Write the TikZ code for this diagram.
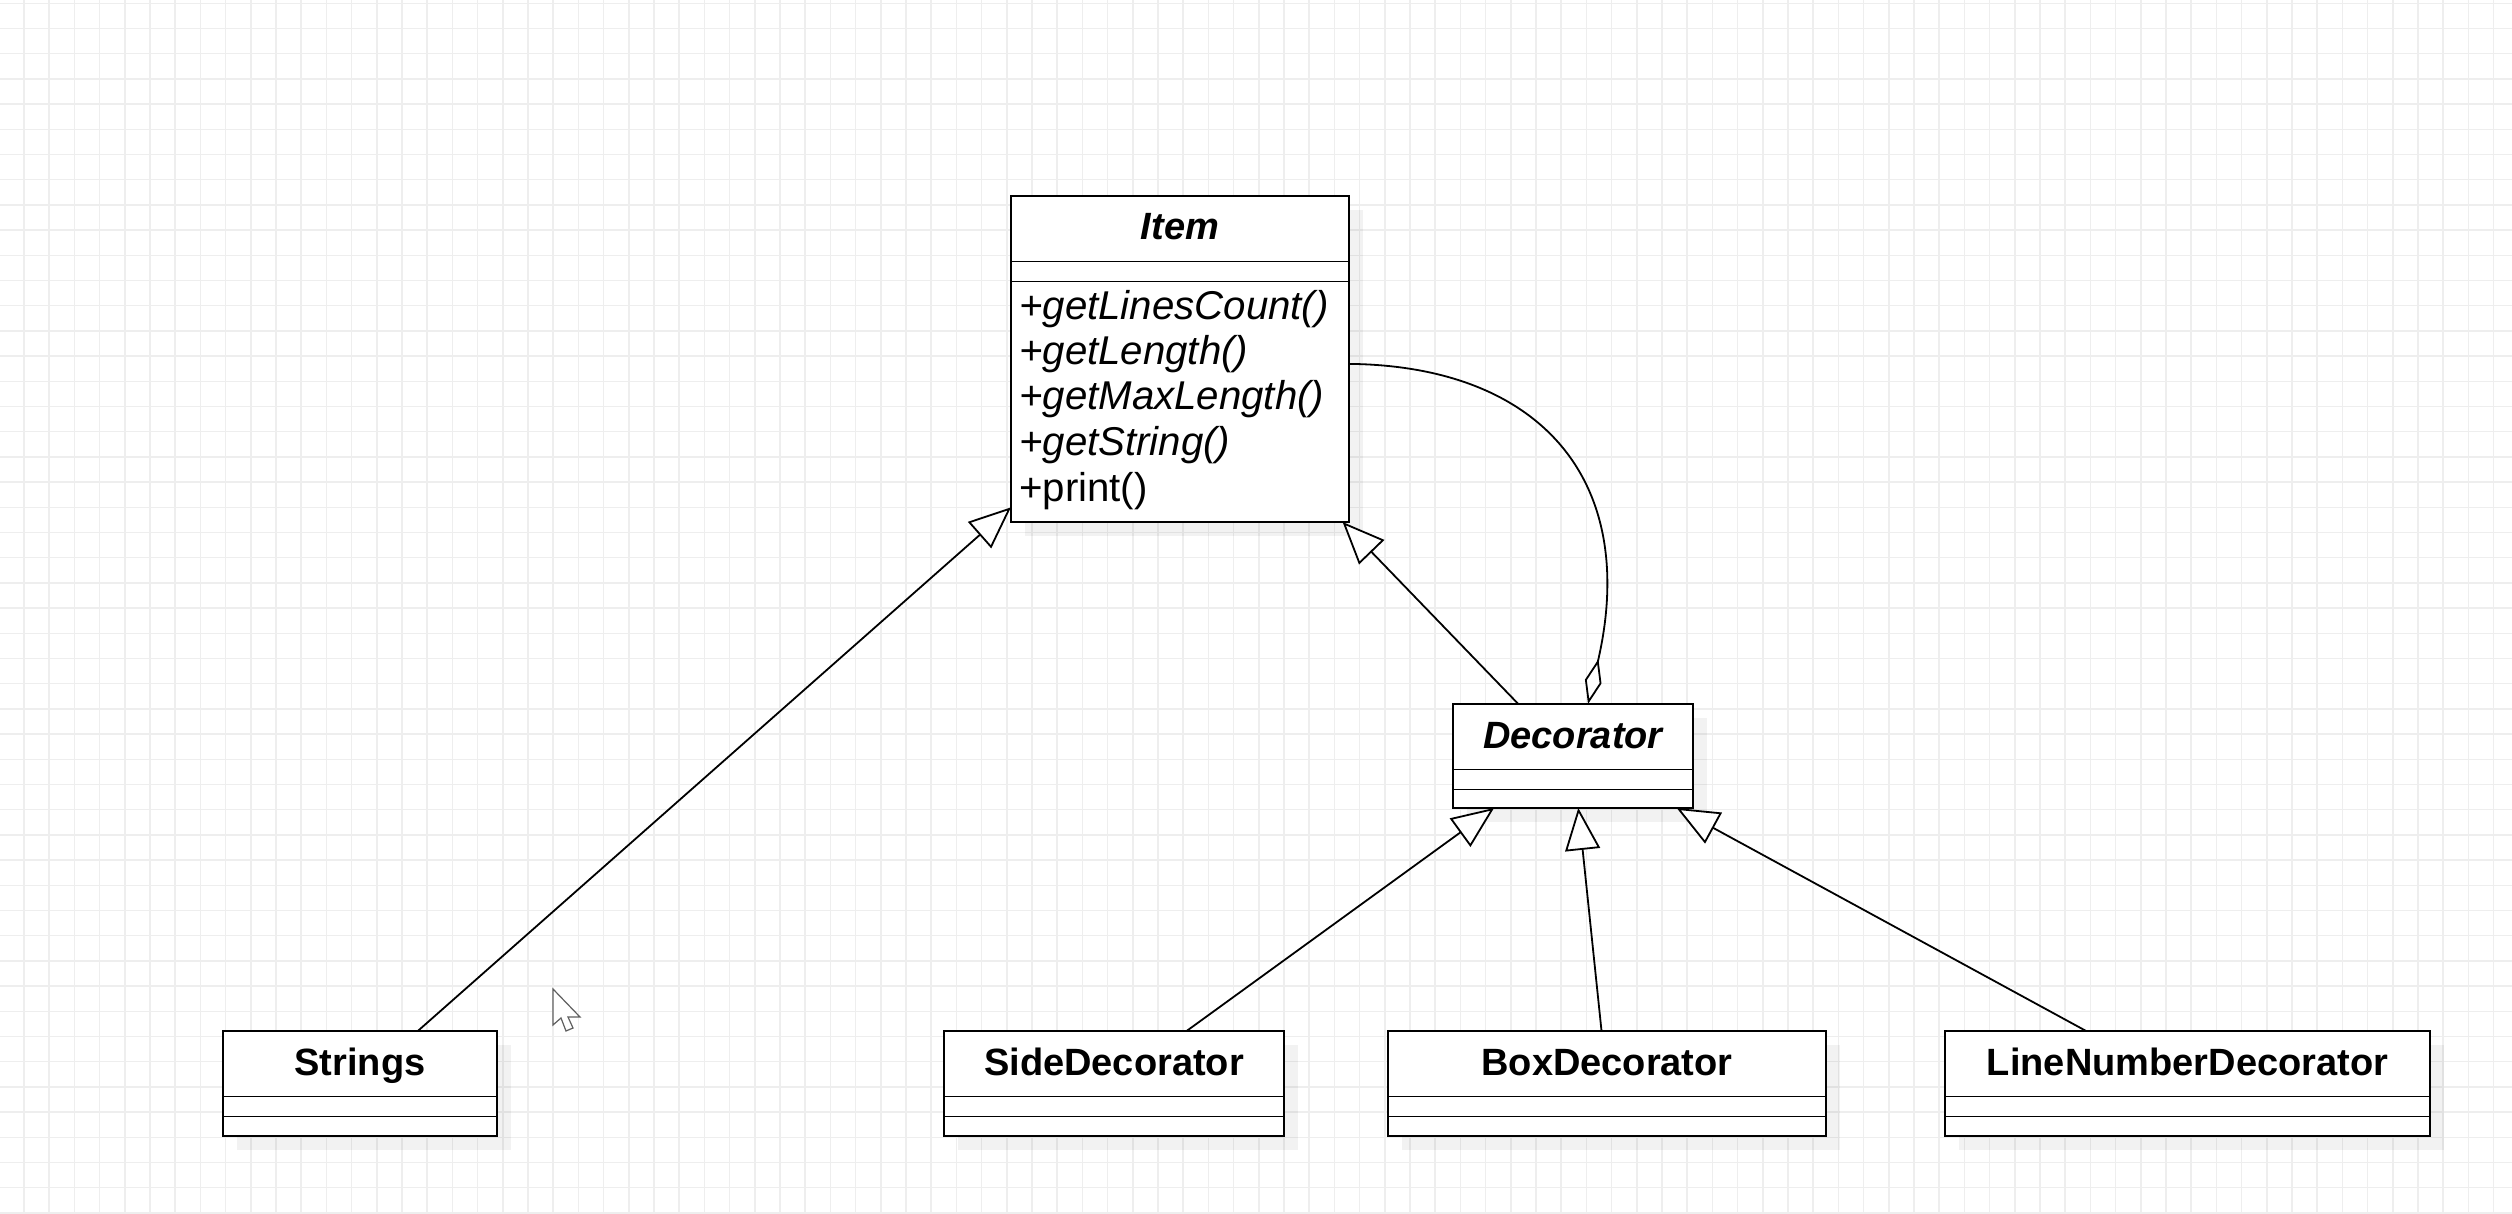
\documentclass[tikz,border=0pt]{standalone}
\usepackage{fontspec}
\setmainfont{Liberation Sans}
\usetikzlibrary{arrows.meta,calc,shadows}

\definecolor{gridgray}{RGB}{238,238,238}
\definecolor{pointergray}{RGB}{95,95,95}

\tikzset{
  gridline/.style={draw=gridgray, line width=1.5pt},
  classbox/.style={draw=black, line width=1.9pt, fill=white, rectangle,
    inner sep=0pt, outer sep=0pt, anchor=north west,
    drop shadow={shadow xshift=14pt, shadow yshift=-14pt, fill=black, opacity=0.05}},
  sepline/.style={draw=black, line width=1.9pt},
  classtitle/.style={font=\fontsize{38}{45}\selectfont\bfseries, anchor=base, inner sep=0pt},
  abstracttitle/.style={font=\fontsize{38}{45}\selectfont\bfseries\itshape, anchor=base, inner sep=0pt},
  methodtext/.style={font=\fontsize{40.2}{45}\selectfont\itshape, anchor=base west, inner sep=0pt},
  opertext/.style={font=\fontsize{40.2}{45}\selectfont, anchor=base west, inner sep=0pt},
  inherit/.style={draw=black, line width=1.8pt,
    -{Triangle[length=42pt, width=35pt, fill=white]}},
  aggregation/.style={draw=black, line width=1.8pt,
    -{Diamond[length=46pt, width=17pt, fill=white]}},
}

% separators of the attribute and operation compartments
\newcommand\classseps[1]{%
  \draw[sepline] ([yshift=-65.5pt]#1.north west) -- ([yshift=-65.5pt]#1.north east);
  \draw[sepline] ([yshift=-85.5pt]#1.north west) -- ([yshift=-85.5pt]#1.north east);
}

\begin{document}
\begin{tikzpicture}[x=1pt, y=-1pt]
  % canvas
  \fill[white] (0,0) rectangle (2512,1214);
  \useasboundingbox (0,0) rectangle (2512,1214);

  % background grid
  \foreach \i in {0,...,98} {
    \draw[gridline] (24+25.2*\i, 0) -- (24+25.2*\i, 1214);
  }
  \foreach \j in {0,...,48} {
    \draw[gridline] (0, 3.3+25.2*\j) -- (2512, 3.3+25.2*\j);
  }

  % classes
  \node[classbox, minimum width=338pt, minimum height=326pt] (item) at (1011,196) {};
  \node[classbox, minimum width=240pt, minimum height=104pt] (decorator) at (1453,704) {};
  \node[classbox, minimum width=274pt, minimum height=105pt] (strings) at (223,1031) {};
  \node[classbox, minimum width=340pt, minimum height=105pt] (side) at (944,1031) {};
  \node[classbox, minimum width=438pt, minimum height=105pt] (box) at (1388,1031) {};
  \node[classbox, minimum width=485pt, minimum height=105pt] (linenum) at (1945,1031) {};

  \classseps{item}
  \classseps{decorator}
  \classseps{strings}
  \classseps{side}
  \classseps{box}
  \classseps{linenum}

  % class names
  \node[abstracttitle] (item-name) at ([yshift=-44pt]item.north) {Item};
  \node[abstracttitle] (decorator-name) at ([yshift=-44pt]decorator.north) {Decorator};
  \node[classtitle] (strings-name) at ([yshift=-44pt]strings.north) {Strings};
  \node[classtitle] (side-name) at ([yshift=-44pt]side.north) {SideDecorator};
  \node[classtitle] (box-name) at ([yshift=-44pt]box.north) {BoxDecorator};
  \node[classtitle] (linenum-name) at ([yshift=-44pt]linenum.north) {LineNumberDecorator};

  % operations of Item
  \node[methodtext] (op1) at ([xshift=8pt, yshift=-124pt]item.north west) {+getLinesCount()};
  \node[methodtext] (op2) at ([xshift=8pt, yshift=-169pt]item.north west) {+getLength()};
  \node[methodtext] (op3) at ([xshift=8pt, yshift=-214pt]item.north west) {+getMaxLength()};
  \node[methodtext] (op4) at ([xshift=8pt, yshift=-259pt]item.north west) {+getString()};
  \node[opertext]   (op5) at ([xshift=8pt, yshift=-305pt]item.north west) {+print()};

  % generalizations
  \draw[inherit] ($(strings.north west)!0.711!(strings.north east)$)
              -- ($(item.north west)!0.955!(item.south west)$);
  \draw[inherit] ($(decorator.north west)!0.272!(decorator.north east)$)
              -- ($(item.south west)!0.981!(item.south east)$);
  \draw[inherit] ($(side.north west)!0.7135!(side.north east)$)
              -- ($(decorator.south west)!0.171!(decorator.south east)$);
  \draw[inherit] ($(box.north west)!0.4875!(box.north east)$)
              -- ($(decorator.south west)!0.522!(decorator.south east)$);
  \draw[inherit] ($(linenum.north west)!0.291!(linenum.north east)$)
              -- ($(decorator.south west)!0.932!(decorator.south east)$);

  % aggregation: Decorator holds an Item
  \draw[aggregation] ($(item.north east)!0.515!(item.south east)$)
      .. controls +(191,2) and +(52,-224) ..
      ($(decorator.north west)!0.5625!(decorator.north east)$);

  % mouse pointer
  \draw[draw=pointergray, fill=white, line width=1.2pt, line join=miter]
    (553,989) -- (553,1025) -- (561,1018) -- (566,1031) -- (573,1028)
    -- (568,1017) -- (580,1017) -- cycle;
\end{tikzpicture}
\end{document}
